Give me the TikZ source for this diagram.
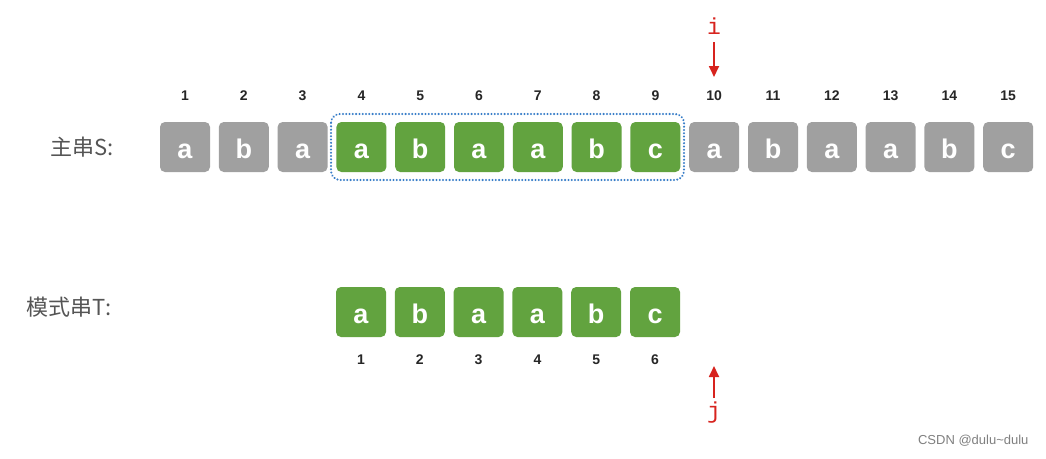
\documentclass[tikz,border=0pt]{standalone}
\usepackage{fontspec}
\setmainfont{Liberation Sans}
\newfontfamily\cjk{Noto Sans CJK SC}
\newfontfamily\monof{Liberation Mono}
\usetikzlibrary{arrows.meta}
\definecolor{boxgray}{RGB}{160,160,160}
\definecolor{boxgreen}{RGB}{98,163,63}
\definecolor{dotblue}{RGB}{55,125,200}
\definecolor{lblgray}{RGB}{85,85,85}
\definecolor{ptrred}{RGB}{215,35,30}
\tikzset{
  cell/.style={rounded corners=5pt, minimum width=50pt, minimum height=50pt, inner sep=0pt,
    text=white, font=\fontsize{27}{27}\selectfont\bfseries, text height=22pt, text depth=0pt},
  graycell/.style={cell, fill=boxgray},
  greencell/.style={cell, fill=boxgreen},
  idx/.style={font=\fontsize{14}{14}\selectfont\bfseries, text=black!85},
  rowlbl/.style={font=\cjk\fontsize{22}{22}\selectfont, text=lblgray},
  ptr/.style={draw=ptrred, line width=1.8pt, -{Triangle[length=11pt,width=10pt]}},
  ptrlbl/.style={font=\monof\fontsize{23}{23}\selectfont, text=ptrred},
}
\begin{document}
\begin{tikzpicture}[x=1pt,y=-1pt]
\useasboundingbox[fill=white] (0,0) rectangle (1046,458);
% main string S
\foreach \i/\c/\s in {1/a/graycell,2/b/graycell,3/a/graycell,4/a/greencell,5/b/greencell,6/a/greencell,7/a/greencell,8/b/greencell,9/c/greencell,10/a/graycell,11/b/graycell,12/a/graycell,13/a/graycell,14/b/graycell,15/c/graycell}{
  \node[\s] (s\i) at ({185+58.8*(\i-1)},147) {\c};
  \node[idx] (sn\i) at ({185+58.8*(\i-1)},96) {\i};
}
\node[rowlbl, anchor=west] (lblS) at (47,147) {主串S:};
% dotted highlight
\draw[dotblue, line width=2.2pt, dash pattern=on 0.1pt off 3.2pt, line cap=round, rounded corners=9pt]
  (331,114) rectangle (684,180);
% pattern T
\foreach \i/\c in {1/a,2/b,3/a,4/a,5/b,6/c}{
  \node[greencell] (t\i) at ({361+58.8*(\i-1)},312) {\c};
  \node[idx] (tn\i) at ({361+58.8*(\i-1)},360) {\i};
}
\node[rowlbl, anchor=west] (lblT) at (23,307) {模式串T:};
% pointers
\node[ptrlbl] (pi) at (714,26) {i};
\coordinate (pit) at (714,42);
\coordinate (pia) at (714,77);
\draw[ptr] (pit) -- (pia);
\node[ptrlbl] (pj) at (714,413) {j};
\coordinate (pjt) at (714,398);
\coordinate (pja) at (714,366);
\draw[ptr] (pjt) -- (pja);
% watermark
\node[anchor=east, font=\fontsize{13}{13}\selectfont, text=black!50] (wm) at (1032,441) {CSDN @dulu\textasciitilde dulu};
\end{tikzpicture}
\end{document}
